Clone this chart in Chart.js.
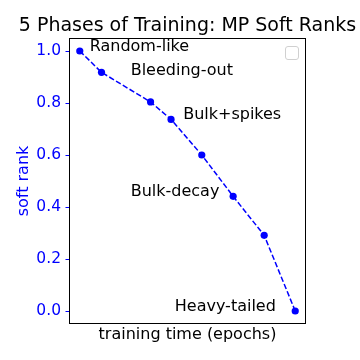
<!DOCTYPE html>
<html>
<head>
<meta charset="utf-8">
<script src="https://cdn.jsdelivr.net/npm/chart.js@4.4.0/dist/chart.umd.min.js"></script>
<style>
  html, body { margin: 0; padding: 0; background: #fff; }
  #wrap { width: 360px; height: 360px; }
</style>
</head>
<body>
<div id="wrap"><canvas id="grafica" width="360" height="360"></canvas></div>
<script>
// datos
const epochs = [0, 0.7, 2.28, 2.94, 3.93, 4.94, 5.94, 6.94];
const softRank = [1.0, 0.918, 0.804, 0.737, 0.6, 0.441, 0.291, 0.0];
const yTicks = [0, 0.2, 0.4, 0.6, 0.8, 1.0];
const phaseNames = ["Random-like", "Bleeding-out", "Bulk+spikes", "Bulk-decay", "Heavy-tailed"];
const phaseX = [0.32, 1.64, 3.33, 1.64, 3.06];
const phaseY = [1.0, 0.908, 0.737, 0.441, 0.0];

const FONT = "'DejaVu Sans', sans-serif";

// textos, marco y leyenda vacia
const textos = {
  id: "textos",
  afterDraw(chart) {
    const { ctx, chartArea: a, scales } = chart;
    ctx.save();

    ctx.strokeStyle = "#000";
    ctx.lineWidth = 1;
    ctx.strokeRect(a.left + 0.5, a.top + 0.5, a.right - a.left - 1, a.bottom - a.top - 1);

    ctx.fillStyle = "#000";
    ctx.font = "19px " + FONT;
    ctx.textAlign = "center";
    ctx.textBaseline = "alphabetic";
    ctx.fillText("5 Phases of Training: MP Soft Ranks", (a.left + a.right) / 2, 31);

    ctx.font = "16px " + FONT;
    ctx.textBaseline = "middle";
    ctx.fillText("training time (epochs)", (a.left + a.right) / 2, 335);

    ctx.save();
    ctx.fillStyle = "#0000ff";
    ctx.translate(24, (a.top + a.bottom) / 2);
    ctx.rotate(-Math.PI / 2);
    ctx.fillText("soft rank", 0, 0);
    ctx.restore();

    ctx.font = "16px " + FONT;
    ctx.textAlign = "left";
    ctx.textBaseline = "alphabetic";
    ctx.fillStyle = "#000";
    phaseNames.forEach((n, i) => {
      ctx.fillText(n, scales.x.getPixelForValue(phaseX[i]), scales.y.getPixelForValue(phaseY[i]));
    });

    // leyenda sin entradas
    ctx.strokeStyle = "#d0d0d0";
    ctx.beginPath();
    ctx.roundRect(285.5, 46.5, 13, 13, 2.5);
    ctx.stroke();

    ctx.restore();
  }
};

new Chart(document.getElementById("grafica"), {
  type: "scatter",
  data: {
    datasets: [{
      data: epochs.map((e, i) => ({ x: e, y: softRank[i] })),
      showLine: true,
      borderColor: "#0000ff",
      backgroundColor: "#0000ff",
      borderWidth: 1.5,
      borderDash: [5.5, 2.4],
      pointRadius: 3.6,
      pointBorderWidth: 0,
      pointHoverRadius: 3.6
    }]
  },
  options: {
    responsive: false,
    animation: false,
    layout: { padding: { left: 0, top: 38, right: 54, bottom: 36 } },
    plugins: {
      legend: { display: false },
      title: { display: false },
      tooltip: { enabled: false }
    },
    scales: {
      x: {
        type: "linear",
        display: false,
        min: -0.347,
        max: 7.287
      },
      y: {
        type: "linear",
        min: -0.05,
        max: 1.05,
        afterFit: s => { s.width = 69; },
        afterBuildTicks: s => { s.ticks = yTicks.map(v => ({ value: v })); },
        border: { display: false },
        grid: {
          drawOnChartArea: false,
          drawTicks: true,
          tickLength: 3.5,
          color: "#0000ff"
        },
        ticks: {
          color: "#0000ff",
          padding: 4.5,
          font: { family: FONT, size: 15.5 },
          callback: v => v.toFixed(1)
        }
      }
    }
  },
  plugins: [textos]
});
</script>
</body>
</html>
